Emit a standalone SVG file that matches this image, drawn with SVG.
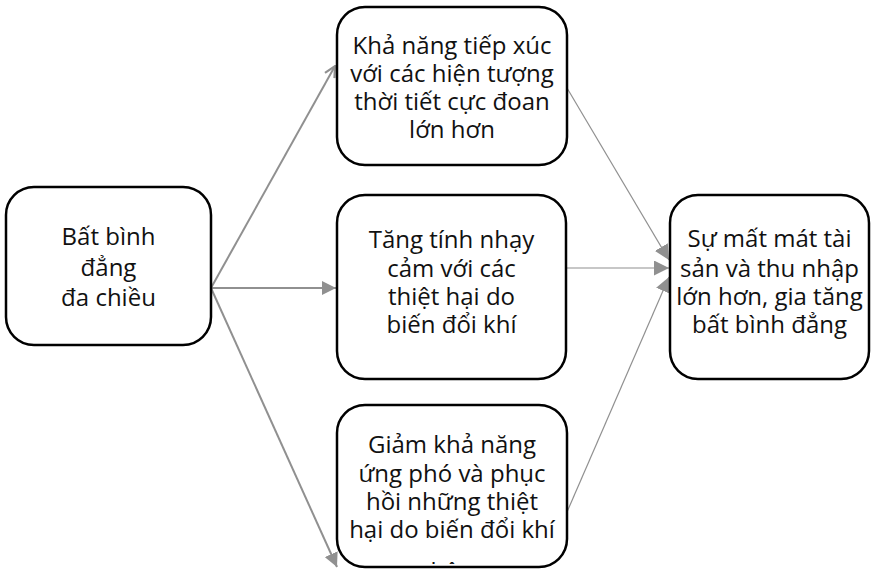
<svg xmlns="http://www.w3.org/2000/svg" width="873" height="570" viewBox="0 0 873 570">
  <style>
    .box { fill: #ffffff; stroke: #000000; stroke-width: 2.5; }
    .lbl { font-family: "Open Sans", "Noto Sans", sans-serif; font-size: 24px; fill: #111111; text-anchor: middle; }
    .edge { stroke: #909090; fill: none; }
    .thick { stroke-width: 2; }
    .thin { stroke-width: 1.2; }
  </style>
  <defs>
    <marker id="tri" viewBox="0 0 12 12" refX="12" refY="6" markerWidth="14" markerHeight="14" markerUnits="userSpaceOnUse" orient="auto">
      <path d="M0,0 L12,6 L0,12 Z" fill="#909090"/>
    </marker>
    <marker id="triS" viewBox="0 0 12 12" refX="12" refY="6" markerWidth="15" markerHeight="15" markerUnits="userSpaceOnUse" orient="auto">
      <path d="M0,0 L12,6 L0,12 Z" fill="#909090"/>
    </marker>
    <marker id="vee" viewBox="0 0 12 12" refX="11" refY="6" markerWidth="13" markerHeight="13" markerUnits="userSpaceOnUse" orient="auto">
      <path d="M1,1 L11,6 L1,11" fill="none" stroke="#909090" stroke-width="2"/>
    </marker>
    <clipPath id="clipBottom">
      <rect x="338" y="406" width="228" height="158"/>
    </clipPath>
  </defs>

  <!-- connectors -->
  <g id="connectors">
    <line class="edge thick" x1="211" y1="288" x2="335" y2="66" marker-end="url(#vee)"/>
    <line class="edge thick" x1="211" y1="288" x2="336" y2="288" marker-end="url(#tri)"/>
    <line class="edge thick" x1="211" y1="288" x2="337" y2="567" marker-end="url(#tri)"/>
    <line class="edge thin" x1="567" y1="88" x2="669" y2="260" marker-end="url(#triS)"/>
    <line class="edge thin" x1="566" y1="268" x2="669" y2="268" marker-end="url(#triS)"/>
    <line class="edge thin" x1="567" y1="512" x2="669" y2="277" marker-end="url(#triS)"/>
  </g>

  <g id="bat-binh-dang">
    <rect class="box" x="6" y="187" width="205" height="158" rx="28"/>
    <text class="lbl" x="108.5" y="245">Bất bình</text>
    <text class="lbl" x="108.5" y="276">đẳng</text>
    <text class="lbl" x="108.5" y="306">đa chiều</text>
  </g>

  <g id="tiep-xuc">
    <rect class="box" x="337" y="7" width="230" height="158" rx="28"/>
    <text class="lbl" x="452" y="54">Khả năng tiếp xúc</text>
    <text class="lbl" x="452" y="82">với các hiện tượng</text>
    <text class="lbl" x="452" y="110">thời tiết cực đoan</text>
    <text class="lbl" x="452" y="138">lớn hơn</text>
  </g>

  <g id="nhay-cam">
    <rect class="box" x="337" y="195" width="229" height="184" rx="28"/>
    <text class="lbl" x="451.5" y="248">Tăng tính nhạy</text>
    <text class="lbl" x="451.5" y="277">cảm với các</text>
    <text class="lbl" x="451.5" y="305">thiệt hại do</text>
    <text class="lbl" x="451.5" y="333">biến đổi khí</text>
  </g>

  <g id="ung-pho">
    <rect class="box" x="337" y="405" width="230" height="162" rx="28"/>
    <g clip-path="url(#clipBottom)">
      <text class="lbl" x="452" y="453">Giảm khả năng</text>
      <text class="lbl" x="452" y="482">ứng phó và phục</text>
      <text class="lbl" x="452" y="510">hồi những thiệt</text>
      <text class="lbl" x="452" y="538">hại do biến đổi khí</text>
      <text class="lbl" x="452" y="580">hậu</text>
    </g>
  </g>

  <g id="mat-mat">
    <rect class="box" x="670" y="195" width="199" height="184" rx="28"/>
    <text class="lbl" x="769.5" y="247">Sự mất mát tài</text>
    <text class="lbl" x="769.5" y="277">sản và thu nhập</text>
    <text class="lbl" x="769.5" y="305">lớn hơn, gia tăng</text>
    <text class="lbl" x="769.5" y="333">bất bình đẳng</text>
  </g>
</svg>
